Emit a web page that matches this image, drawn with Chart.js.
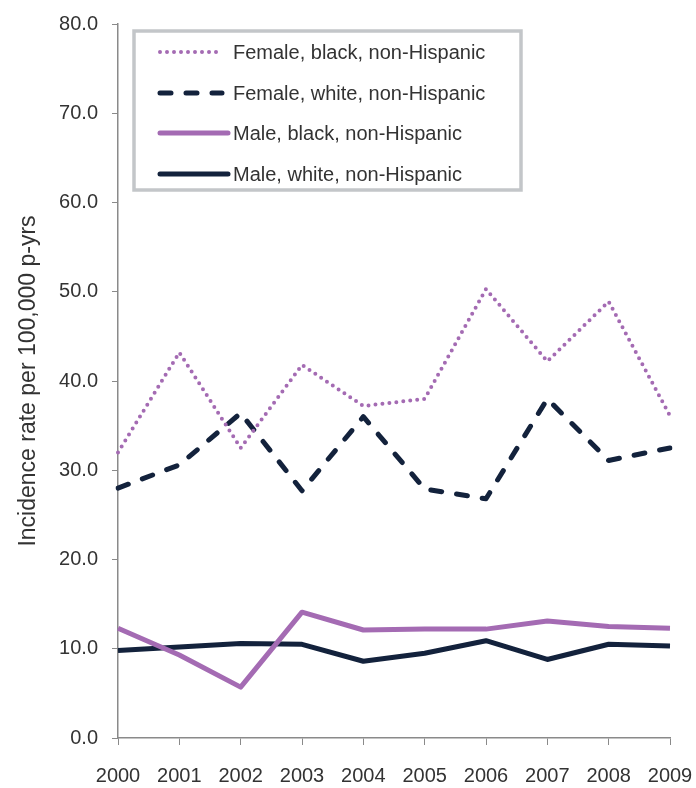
<!DOCTYPE html>
<html>
<head>
<meta charset="utf-8">
<script src="https://cdn.jsdelivr.net/npm/chart.js@4/dist/chart.umd.min.js"></script>
<style>
  html, body { margin: 0; padding: 0; background: #fff; }
  #wrap { width: 696px; height: 788px; }
</style>
</head>
<body>
<div id="wrap"><canvas id="chLine"></canvas></div>
<script>
"use strict";

var years = ['2000','2001','2002','2003','2004','2005','2006','2007','2008','2009'];
var femaleBlack = [32.0, 43.2, 32.5, 41.8, 37.2, 38.0, 50.3, 42.2, 48.9, 36.1];
var femaleWhite = [28.0, 30.6, 36.4, 27.7, 36.0, 27.9, 26.8, 38.0, 31.1, 32.5];
var maleBlack = [12.3, 9.3, 5.7, 14.1, 12.1, 12.2, 12.2, 13.1, 12.5, 12.3];
var maleWhite = [9.8, 10.2, 10.6, 10.5, 8.6, 9.5, 10.9, 8.8, 10.5, 10.3];
var seriesNames = ['Female, black, non-Hispanic', 'Female, white, non-Hispanic',
                   'Male, black, non-Hispanic', 'Male, white, non-Hispanic'];

var purple = '#a46bb3';
var navy = '#13223c';
var textColor = '#333333';
var fontFamily = 'Arial, "Liberation Sans", sans-serif';

// legend box drawn inside the plot, like the original
var boxLegend = {
  id: 'boxLegend',
  afterDraw: function(chart){
    var ctx = chart.ctx;
    var x0 = 134, y0 = 31, w = 387, h = 159;
    var rows = [52, 93, 133, 174];
    ctx.save();
    ctx.fillStyle = '#fff';
    ctx.fillRect(x0, y0, w, h);
    ctx.strokeStyle = '#c3c6c9';
    ctx.lineWidth = 3.5;
    ctx.strokeRect(x0, y0, w, h);
    chart.data.datasets.forEach(function(ds, i){
      var y = rows[i];
      ctx.beginPath();
      ctx.strokeStyle = ds.borderColor;
      ctx.lineWidth = ds.borderWidth;
      ctx.lineCap = 'round';
      ctx.setLineDash(ds.borderDash || []);
      ctx.moveTo(160, y);
      ctx.lineTo(i < 2 ? 222 : 228, y);
      ctx.stroke();
      ctx.setLineDash([]);
      ctx.fillStyle = textColor;
      ctx.font = '20px ' + fontFamily;
      ctx.textBaseline = 'middle';
      ctx.fillText(ds.label, 233, y + 1);
    });
    ctx.restore();
  }
};

function makeChart(){
  var datasets = [
    { label: seriesNames[0], data: femaleBlack, borderColor: purple, borderWidth: 4,
      borderDash: [0, 7], borderCapStyle: 'round' },
    { label: seriesNames[1], data: femaleWhite, borderColor: navy, borderWidth: 5,
      borderDash: [11, 15], borderCapStyle: 'round' },
    { label: seriesNames[2], data: maleBlack, borderColor: purple, borderWidth: 5 },
    { label: seriesNames[3], data: maleWhite, borderColor: navy, borderWidth: 5 }
  ];
  datasets.forEach(function(d){
    d.pointRadius = 0;
    d.tension = 0;
    d.fill = false;
    d.borderJoinStyle = 'round';
  });

  new Chart(document.getElementById('chLine'), {
    type: 'line',
    data: { labels: years, datasets: datasets },
    options: {
      responsive: true,
      maintainAspectRatio: false,
      animation: false,
      layout: { padding: { left: 0, right: 26, top: 24, bottom: 0 } },
      plugins: { legend: { display: false }, tooltip: { enabled: false } },
      scales: {
        x: {
          offset: false,
          grid: { display: true, drawOnChartArea: false, drawTicks: true, tickLength: 7, color: '#8a8a8a' },
          border: { color: '#8a8a8a', width: 1.5 },
          ticks: { color: textColor, font: { size: 20, family: fontFamily }, padding: 19, maxRotation: 0 },
          afterFit: function(s){ s.height = 50; s.paddingLeft = 0; s.paddingRight = 0; }
        },
        y: {
          min: 0, max: 80,
          grid: { display: true, drawOnChartArea: false, drawTicks: true, tickLength: 6, color: '#8a8a8a' },
          border: { color: '#8a8a8a', width: 1.5 },
          ticks: { stepSize: 10, color: textColor, font: { size: 20, family: fontFamily }, padding: 14,
                   callback: function(v){ return v.toFixed(1); } },
          title: { display: true, text: 'Incidence rate per 100,000 p-yrs', color: textColor,
                   font: { size: 23, family: fontFamily }, padding: { top: 15, bottom: 0 } },
          afterFit: function(s){ s.width = 118; s.paddingTop = 0; s.paddingBottom = 0; }
        }
      }
    },
    plugins: [boxLegend]
  });
}

window.onload = makeChart;
</script>
</body>
</html>
